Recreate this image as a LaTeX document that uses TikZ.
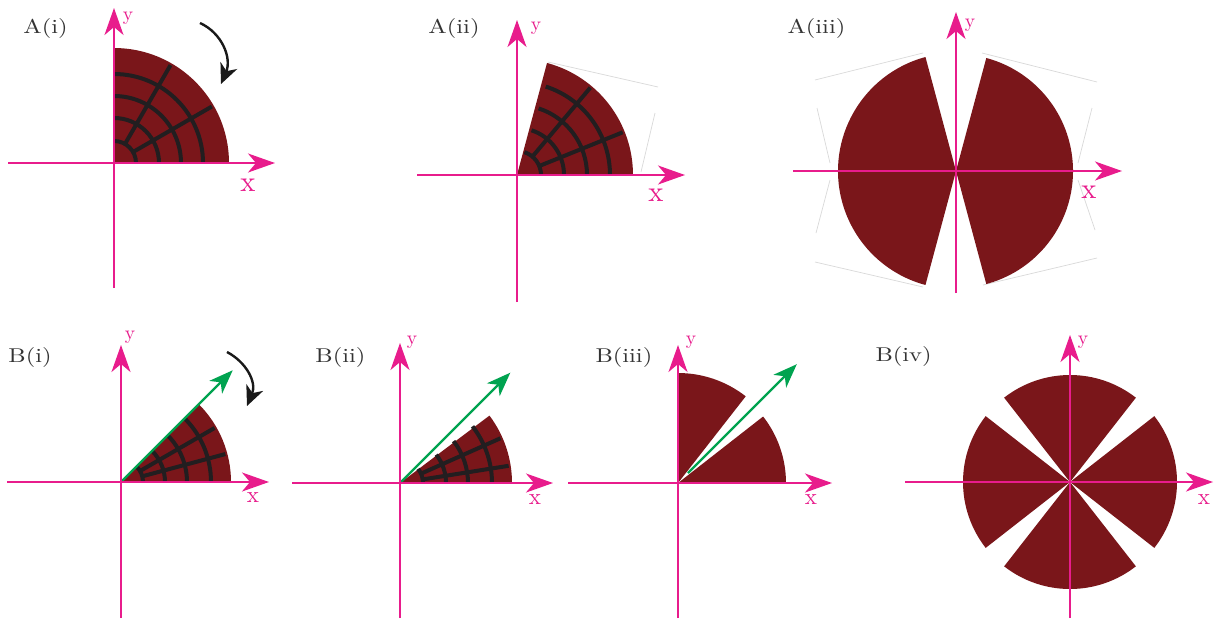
\documentclass[tikz,border=0pt]{standalone}
\usetikzlibrary{arrows.meta}
\definecolor{dred}{RGB}{122,22,26}
\definecolor{mag}{RGB}{232,28,140}
\definecolor{grn}{RGB}{0,163,80}
\definecolor{gline}{RGB}{34,30,32}
\tikzset{
  axis/.style={draw=mag, line width=1.8pt, -{Stealth[length=27pt,width=19pt,inset=8pt]}},
  sect/.style={fill=dred},
  gridline/.style={draw=gline, line width=4pt},
  ghost/.style={draw=gray!30, line width=0.7pt},
  grnarrow/.style={draw=grn, line width=2.2pt, -{Stealth[length=24pt,width=18pt,inset=7pt]}},
  rotarrow/.style={draw=black!90, line width=2.4pt, -{Stealth[length=20pt,width=18pt,inset=6pt]}},
  lab/.style={text=black!80, font=\fontsize{10}{12}\selectfont, inner sep=0pt, anchor=base west, xscale=2.45, yscale=2.0},
  xbig/.style={text=mag, font=\fontsize{10}{12}\selectfont, inner sep=0pt, xscale=2.85, yscale=2.9},
  xsmall/.style={text=mag, font=\fontsize{10}{12}\selectfont, inner sep=0pt, xscale=2.3, yscale=2.3},
  ylab/.style={text=mag, font=\fontsize{10}{12}\selectfont, inner sep=0pt, scale=1.95},
}
\begin{document}
\begin{tikzpicture}[x=1pt,y=1pt]
\useasboundingbox[fill=white] (0,0) rectangle (1222,-622);

% ---------------- A(i) ----------------
\begin{scope}[shift={(114,-163)}]
  \fill[sect] (0,0) -- (0:115) arc[start angle=0,end angle=90,radius=115] -- cycle;
  \foreach \r in {22,45,67,89} \draw[gridline] (0:\r) arc[start angle=0,end angle=90,radius=\r];
  \foreach \a in {30,60} \draw[gridline] (\a:21) -- (\a:113);
  \coordinate (a1xs) at (-106,0); \coordinate (a1xe) at (161,0);
  \coordinate (a1ys) at (0,-125); \coordinate (a1ye) at (0,155);
  \draw[axis] (a1xs) -- (a1xe);
  \draw[axis] (a1ys) -- (a1ye);
\end{scope}
\coordinate (r1s) at (200,-23); \coordinate (r1e) at (221,-84);
\draw[rotarrow] (r1s) .. controls (222,-33) and (232,-58) .. (r1e);
\node[lab] (la1) at (23,-33) {A(i)};
\node[xbig] (xa1) at (248,-185) {x};
\node[ylab] (ya1) at (128,-18) {y};

% ---------------- A(ii) ----------------
\draw[ghost] (548,-62) -- (658,-87);
\draw[ghost] (655,-113) -- (641,-172);
\begin{scope}[shift={(517,-175)}]
  \fill[sect] (0,0) -- (0:116) arc[start angle=0,end angle=75,radius=116] -- cycle;
  \foreach \r in {24,47,70,93} \draw[gridline] (0:\r) arc[start angle=0,end angle=72,radius=\r];
  \foreach \a in {22,50} \draw[gridline] (\a:24) -- (\a:114);
  \coordinate (a2xs) at (-100,0); \coordinate (a2xe) at (168,0);
  \coordinate (a2ys) at (0,-127); \coordinate (a2ye) at (0,155);
  \draw[axis] (a2xs) -- (a2xe);
  \draw[axis] (a2ys) -- (a2ye);
\end{scope}
\node[lab] (la2) at (428,-33) {A(ii)};
\node[xbig] (xa2) at (656,-195) {x};
\node[ylab] (ya2) at (536,-28) {y};

% ---------------- A(iii) ----------------
\draw[ghost] (923,-53) -- (815,-80);
\draw[ghost] (817,-108) -- (830,-163);
\draw[ghost] (830,-180) -- (816,-233);
\draw[ghost] (815,-262) -- (923,-287);
\draw[ghost] (982,-53) -- (1097,-82);
\draw[ghost] (1092,-108) -- (1078,-163);
\draw[ghost] (1078,-180) -- (1095,-230);
\draw[ghost] (1097,-258) -- (983,-285);
\begin{scope}[shift={(956,-171)}]
  \fill[sect] (0,0) -- (-75:117) arc[start angle=-75,end angle=75,radius=117] -- cycle;
  \fill[sect] (0,0) -- (105:118) arc[start angle=105,end angle=255,radius=118] -- cycle;
  \coordinate (a3xs) at (-163,0); \coordinate (a3xe) at (166,0);
  \coordinate (a3ys) at (0,-122); \coordinate (a3ye) at (0,159);
  \draw[axis] (a3xs) -- (a3xe);
  \draw[axis] (a3ys) -- (a3ye);
\end{scope}
\node[lab] (la3) at (787,-33) {A(iii)};
\node[xbig] (xa3) at (1089,-192) {x};
\node[ylab] (ya3) at (970,-25) {y};

% ---------------- B(i) ----------------
\begin{scope}[shift={(121,-482)}]
  \fill[sect] (0,0) -- (0:110) arc[start angle=0,end angle=45,radius=110] -- cycle;
  \foreach \r in {22,44,66,90} \draw[gridline] (0:\r) arc[start angle=0,end angle=45,radius=\r];
  \foreach \a in {15,30} \draw[gridline] (\a:21) -- (\a:108);
  \coordinate (b1o) at (0,0); \coordinate (b1g) at (45:158);
  \draw[grnarrow] (b1o) -- (b1g);
  \coordinate (b1xs) at (-114,0); \coordinate (b1xe) at (148,0);
  \coordinate (b1ys) at (0,-136); \coordinate (b1ye) at (0,137);
  \draw[axis] (b1xs) -- (b1xe);
  \draw[axis] (b1ys) -- (b1ye);
\end{scope}
\coordinate (r2s) at (227,-352); \coordinate (r2e) at (247,-406);
\draw[rotarrow] (r2s) .. controls (246,-362) and (257,-382) .. (r2e);
\node[lab] (lb1) at (8,-362) {B(i)};
\node[xsmall] (xb1) at (253,-498) {x};
\node[ylab] (yb1) at (130,-337) {y};

% ---------------- B(ii) ----------------
\begin{scope}[shift={(400,-483)}]
  \fill[sect] (0,0) -- (0:112) arc[start angle=0,end angle=37,radius=112] -- cycle;
  \foreach \r in {23,46,68,92} \draw[gridline] (0:\r) arc[start angle=0,end angle=38,radius=\r];
  \foreach \a in {9,24} \draw[gridline] (\a:22) -- (\a:110);
  \coordinate (b2o) at (0,0); \coordinate (b2g) at (45:156);
  \draw[grnarrow] (b2o) -- (b2g);
  \coordinate (b2xs) at (-108,0); \coordinate (b2xe) at (153,0);
  \coordinate (b2ys) at (0,-135); \coordinate (b2ye) at (0,140);
  \draw[axis] (b2xs) -- (b2xe);
  \draw[axis] (b2ys) -- (b2ye);
\end{scope}
\node[lab] (lb2) at (315,-362) {B(ii)};
\node[xsmall] (xb2) at (535,-500) {x};
\node[ylab] (yb2) at (412,-342) {y};

% ---------------- B(iii) ----------------
\begin{scope}[shift={(678,-483)}]
  \fill[sect] (0,0) -- (0:108) arc[start angle=0,end angle=38,radius=108] -- cycle;
  \fill[sect] (0,0) -- (52:110) arc[start angle=52,end angle=90,radius=110] -- cycle;
  \coordinate (b3o) at (45:14); \coordinate (b3g) at (45:168);
  \draw[grnarrow] (b3o) -- (b3g);
  \coordinate (b3xs) at (-110,0); \coordinate (b3xe) at (154,0);
  \coordinate (b3ys) at (0,-135); \coordinate (b3ye) at (0,138);
  \draw[axis] (b3xs) -- (b3xe);
  \draw[axis] (b3ys) -- (b3ye);
\end{scope}
\node[lab] (lb3) at (595,-362) {B(iii)};
\node[xsmall] (xb3) at (811,-500) {x};
\node[ylab] (yb3) at (691,-342) {y};

% ---------------- B(iv) ----------------
\begin{scope}[shift={(1070,-482)}]
  \foreach \s in {0,52,90,142,180,232,270,322}
    \fill[sect] (0,0) -- (\s:107) arc[start angle=\s,end angle=\s+38,radius=107] -- cycle;
  \coordinate (b4xs) at (-165,0); \coordinate (b4xe) at (143,0);
  \coordinate (b4ys) at (0,-136); \coordinate (b4ye) at (0,147);
  \draw[axis] (b4xs) -- (b4xe);
  \draw[axis] (b4ys) -- (b4ye);
\end{scope}
\node[lab] (lb4) at (875,-361) {B(iv)};
\node[xsmall] (xb4) at (1204,-500) {x};
\node[ylab] (yb4) at (1083,-342) {y};
\end{tikzpicture}
\end{document}
